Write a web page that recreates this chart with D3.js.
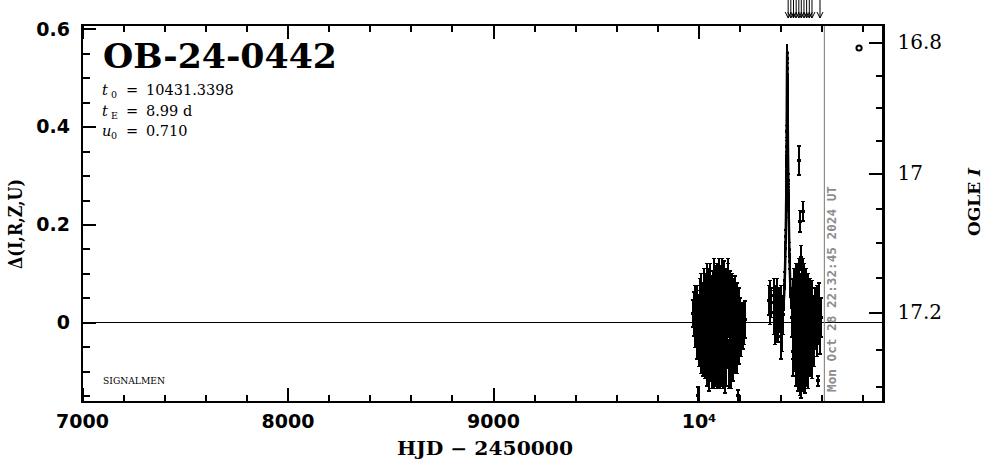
<!DOCTYPE html>
<html><head><meta charset="utf-8">
<script src="https://cdn.jsdelivr.net/npm/d3@7"></script>
<style>html,body{margin:0;padding:0;background:#fff;} svg{display:block;}</style>
</head><body>
<svg id="chart" width="986" height="459"></svg>
<script>
// ---------- data ----------
const xMajorTicks = [7000, 8000, 9000, 10000];
const xTickLabels = ["7000", "8000", "9000", "10⁴"];
const yMajorTicks = [0, 0.2, 0.4, 0.6];
const yTickLabels = ["0", "0.2", "0.4", "0.6"];
const magMajorTicks = [16.8, 17, 17.2];
const magTickLabels = ["16.8", "17", "17.2"];
const magMinorTicks = [16.85, 16.9, 16.95, 17.05, 17.1, 17.15, 17.25, 17.3];
const magKnots = [16.8, 17.0, 17.2, 17.3];
const magKnotDelta = [0.5726, 0.3047, 0.0204, -0.1317];

// [HJD-2450000, delta, error]
const season2023 = [
 [9973,0.018,0.028],[9976,0.030,0.032],[9979,0.002,0.030],[9982,0.040,0.035],[9985,-0.012,0.040],
 [9988,0.020,0.030],[9991,-0.030,0.045],[9994,0.045,0.030],[9997,-0.150,0.018],[9999,0.008,0.045],
 [10002,-0.040,0.050],[10005,0.055,0.035],[10008,0.015,0.050],[10011,-0.050,0.055],[10014,0.060,0.040],
 [10017,-0.015,0.060],[10020,0.030,0.050],[10023,-0.060,0.050],[10026,0.070,0.040],[10029,0.000,0.060],
 [10031,-0.070,0.045],[10034,0.045,0.055],[10037,-0.025,0.065],[10040,0.080,0.040],[10042,-0.080,0.050],
 [10045,0.020,0.060],[10048,-0.045,0.070],[10050,0.065,0.045],[10053,-0.095,0.045],[10055,0.010,0.065],
 [10058,0.085,0.035],[10060,-0.060,0.060],[10063,0.035,0.060],[10065,-0.090,0.045],[10068,0.050,0.055],
 [10070,-0.020,0.070],[10073,0.090,0.040],[10075,-0.085,0.050],[10078,0.000,0.075],[10080,0.060,0.055],
 [10083,-0.070,0.060],[10085,0.030,0.070],[10088,-0.095,0.040],[10090,0.075,0.045],[10093,-0.035,0.075],
 [10095,0.045,0.065],[10098,-0.080,0.055],[10100,0.085,0.045],[10103,-0.010,0.080],[10105,-0.100,0.035],
 [10108,0.055,0.060],[10110,-0.060,0.070],[10113,0.100,0.030],[10115,0.020,0.075],[10118,-0.090,0.045],
 [10120,0.065,0.050],[10123,-0.040,0.070],[10125,0.080,0.045],[10128,-0.100,0.045],[10130,0.010,0.070],
 [10133,0.070,0.040],[10135,-0.070,0.060],[10138,0.040,0.065],[10140,-0.020,0.075],[10143,0.095,0.035],
 [10145,0.070,0.050],[10148,-0.085,0.050],[10150,0.030,0.060],[10153,-0.050,0.065],[10155,0.060,0.045],
 [10158,-0.010,0.065],[10160,-0.095,0.040],[10163,0.050,0.050],[10165,-0.040,0.060],[10168,0.035,0.055],
 [10170,-0.070,0.050],[10173,0.015,0.060],[10175,0.055,0.040],[10178,-0.050,0.055],[10180,0.025,0.050],
 [10183,-0.025,0.055],[10185,0.040,0.040],[10188,-0.060,0.045],[10190,0.000,0.050],[10192,-0.150,0.012],
 [10195,-0.040,0.045],[10198,0.030,0.040],[10200,-0.015,0.045],[10203,0.015,0.035],[10206,-0.030,0.040],
 [10210,0.005,0.035],[10214,-0.020,0.035],[10218,0.010,0.030],[10221,-0.015,0.030],[10225,0.006,0.038]
];
const season2024Early = [
 [10343,0.045,0.030],[10346,0.030,0.035],[10350,0.060,0.025],[10353,0.040,0.030],[10365,0.020,0.045],
 [10368,0.055,0.035],[10372,-0.010,0.035],[10375,0.035,0.040],[10378,0.010,0.050],[10382,0.060,0.030],
 [10386,-0.005,0.035],[10390,0.040,0.030],[10396,0.020,0.040],[10400,-0.030,0.045],[10403,0.040,0.035],
 [10406,-0.010,0.050],[10409,0.015,0.040]
];
const season2024Peak = [
 [10412,0.030,0.020],[10415,0.045,0.020],[10417,0.060,0.018],[10419,0.085,0.018],[10420.5,0.100,0.015],
 [10422,0.130,0.015],[10423,0.150,0.015],[10424,0.175,0.014],[10425,0.200,0.014],[10425.5,0.215,0.013],
 [10426,0.235,0.013],[10426.5,0.250,0.013],[10427,0.270,0.013],[10427.5,0.300,0.012],[10428,0.330,0.012],
 [10428.4,0.360,0.012],[10428.8,0.390,0.012],[10429.2,0.415,0.012],[10429.5,0.440,0.012],[10429.9,0.470,0.011],
 [10430.3,0.500,0.011],[10430.7,0.525,0.011],[10431,0.545,0.011],[10431.4,0.552,0.012],[10431.7,0.555,0.012],
 [10432.1,0.540,0.011],[10432.5,0.520,0.011],[10432.9,0.495,0.011],[10433.3,0.470,0.012],[10433.6,0.445,0.012],
 [10434,0.420,0.012],[10434.5,0.392,0.012],[10435,0.365,0.012],[10435.5,0.342,0.012],[10436,0.320,0.013],
 [10436.5,0.305,0.013],[10437,0.290,0.013],[10437.5,0.270,0.013],[10438,0.250,0.014],[10438.7,0.228,0.014],
 [10439.5,0.205,0.014],[10440.2,0.188,0.015],[10441,0.170,0.015],[10442,0.148,0.015],[10443,0.125,0.016],
 [10444,0.110,0.017],[10445,0.095,0.018],[10447,0.070,0.018],[10450,0.050,0.020],[10453,0.030,0.022]
];
const season2024Late = [
 [10456,0.010,0.040],[10458,-0.030,0.045],[10460,0.050,0.040],[10462,-0.060,0.050],[10464,0.020,0.055],
 [10466,0.070,0.040],[10468,-0.040,0.060],[10470,0.000,0.065],[10472,0.075,0.045],[10474,-0.080,0.050],
 [10476,0.035,0.060],[10478,-0.020,0.070],[10480,0.080,0.040],[10482,-0.090,0.050],[10484,0.045,0.065],
 [10486,-0.050,0.070],[10488,0.010,0.075],[10491,0.085,0.045],[10493,-0.100,0.050],[10496,0.030,0.070],
 [10498,-0.065,0.070],[10500,-0.120,0.035],[10502,0.060,0.055],[10504,-0.030,0.075],[10506,0.090,0.040],
 [10508,-0.085,0.055],[10510,0.015,0.075],[10512,-0.045,0.065],[10514,0.070,0.050],[10516,-0.100,0.045],
 [10518,0.040,0.060],[10520,-0.015,0.070],[10523,-0.070,0.060],[10525,0.065,0.045],[10528,-0.035,0.060],
 [10530,0.025,0.060],[10533,-0.090,0.045],[10535,0.050,0.050],[10538,-0.010,0.060],[10540,-0.060,0.050],
 [10543,0.040,0.050],[10545,-0.030,0.055],[10548,0.020,0.050],[10550,-0.075,0.040],[10553,0.045,0.040],
 [10556,-0.020,0.050],[10559,0.010,0.045],[10562,-0.050,0.040],[10565,0.030,0.040],[10568,-0.010,0.045],
 [10571,0.015,0.040],[10574,-0.030,0.040],[10577,0.040,0.035],[10580,-0.120,0.010],[10583,0.000,0.045],
 [10587,0.030,0.050],[10591,-0.020,0.045],[10595,0.010,0.040]
];
const outliers = [
 [10490,0.331,0.030],[10509,0.227,0.020],[10494,0.207,0.022],[10497,0.132,0.025]
];
const arrowHjd = [10436,10449,10462,10475,10488,10500,10513,10526,10539,10552,10591];
const nowHjd = 10612.44;
const nowLabel = "Mon Oct 28 22:32:45 2024 UT";
const baselineMarker = [10781, 0.561];
const eventName = "OB-24-0442";
const paramNames = [["t","0"],["t","E"],["u","0"]];
const paramValues = ["10431.3398", "8.99  d", "0.710"];

// ---------- drawing ----------
const svg = d3.select("#chart");
const P = {left:82, right:883.5, top:25, bottom:402};
const x = d3.scaleLinear().domain([7000,10900]).range([P.left,P.right]);
const y = d3.scaleLinear().domain([-0.163,0.608]).range([P.bottom,P.top]);
const magY = d3.scaleLinear().domain(magKnots).range(magKnotDelta.map(d=>y(d)));

svg.append("defs").append("clipPath").attr("id","clip")
  .append("rect").attr("x",P.left).attr("y",P.top).attr("width",P.right-P.left).attr("height",P.bottom-P.top);

// zero line
svg.append("line").attr("x1",P.left).attr("x2",P.right).attr("y1",y(0)).attr("y2",y(0))
  .attr("stroke","#000").attr("stroke-width",1).attr("shape-rendering","crispEdges");

// now line
svg.append("line").attr("x1",x(nowHjd)).attr("x2",x(nowHjd)).attr("y1",P.top).attr("y2",P.bottom)
  .attr("stroke","#8c8c8c").attr("stroke-width",1.2);
svg.append("text").attr("transform",`translate(${x(nowHjd)+11.5},392) rotate(-90)`)
  .attr("font-family","DejaVu Sans Mono").attr("font-weight","bold").attr("font-size",12)
  .attr("fill","#8c8c8c").attr("textLength",206).attr("lengthAdjust","spacingAndGlyphs").text(nowLabel);

// data
const g = svg.append("g").attr("clip-path","url(#clip)");
function drawSet(data, cap){
  const s = g.append("g").attr("stroke","#000").attr("shape-rendering","crispEdges");
  const p = s.selectAll("g").data(data).join("g");
  p.append("line").attr("x1",d=>x(d[0])).attr("x2",d=>x(d[0]))
    .attr("y1",d=>y(d[1]+d[2])).attr("y2",d=>y(d[1]-d[2])).attr("stroke-width",2);
  p.append("line").attr("x1",d=>x(d[0])-cap).attr("x2",d=>x(d[0])+cap)
    .attr("y1",d=>y(d[1]+d[2])).attr("y2",d=>y(d[1]+d[2])).attr("stroke-width",1.5);
  p.append("line").attr("x1",d=>x(d[0])-cap).attr("x2",d=>x(d[0])+cap)
    .attr("y1",d=>y(d[1]-d[2])).attr("y2",d=>y(d[1]-d[2])).attr("stroke-width",1.5);
  p.append("rect").attr("x",d=>x(d[0])-cap).attr("y",d=>y(d[1])-1.5).attr("width",2*cap).attr("height",3)
    .attr("fill","#000").attr("stroke","none");
}
drawSet(season2023, 2);
drawSet(season2024Early, 2);
drawSet(season2024Late, 2);
drawSet(outliers, 2);
// peak points joined by a line so the spike reads as one stroke
g.append("path").datum(season2024Peak)
  .attr("d", d3.line().x(d=>x(d[0])).y(d=>y(d[1])))
  .attr("fill","none").attr("stroke","#000").attr("stroke-width",2.5);
drawSet(season2024Peak, 1.2);

// baseline marker circle
svg.append("circle").attr("cx",x(baselineMarker[0])).attr("cy",y(baselineMarker[1])).attr("r",2.6)
  .attr("fill","none").attr("stroke","#000").attr("stroke-width",2);

// arrows above
const ag = svg.append("g").attr("stroke","#000").attr("stroke-width",1).attr("fill","none");
arrowHjd.forEach(h=>{
  const ax = x(h);
  ag.append("line").attr("x1",ax).attr("x2",ax).attr("y1",0).attr("y2",18);
  ag.append("path").attr("d",`M${ax-3},12 L${ax},18 L${ax+3},12`);
});

// axes
function styleAxis(sel){
  sel.select(".domain").remove();
  sel.selectAll(".tick line").attr("stroke","#000").attr("stroke-width",2).attr("shape-rendering","crispEdges");
}
const xMinor = d3.range(7200,10900,200).filter(v=>v%1000!==0);
const yMinor = [-0.15,-0.1,-0.05,0.05,0.1,0.15,0.25,0.3,0.35,0.45,0.5,0.55];

// bottom
svg.append("g").attr("transform",`translate(0,${P.bottom})`)
  .call(d3.axisBottom(x).tickValues(xMinor).tickSize(-7).tickFormat("")).call(styleAxis);
svg.append("g").attr("transform",`translate(0,${P.bottom})`)
  .call(d3.axisBottom(x).tickValues(xMajorTicks).tickSize(-14).tickPadding(13)
    .tickFormat((d,i)=>xTickLabels[i])).call(styleAxis)
  .selectAll("text").attr("font-family","DejaVu Sans").attr("font-weight","bold").attr("font-size",19).attr("fill","#000");
// top
svg.append("g").attr("transform",`translate(0,${P.top})`)
  .call(d3.axisTop(x).tickValues(xMinor).tickSize(-7).tickFormat("")).call(styleAxis);
svg.append("g").attr("transform",`translate(0,${P.top})`)
  .call(d3.axisTop(x).tickValues(xMajorTicks).tickSize(-14).tickFormat("")).call(styleAxis);
// left
svg.append("g").attr("transform",`translate(${P.left},0)`)
  .call(d3.axisLeft(y).tickValues(yMinor).tickSize(-8).tickFormat("")).call(styleAxis);
svg.append("g").attr("transform",`translate(${P.left},0)`)
  .call(d3.axisLeft(y).tickValues(yMajorTicks).tickSize(-14).tickPadding(12)
    .tickFormat((d,i)=>yTickLabels[i])).call(styleAxis)
  .selectAll("text").attr("font-family","DejaVu Sans").attr("font-weight","bold").attr("font-size",19).attr("fill","#000");
// right
svg.append("g").attr("transform",`translate(${P.right},0)`)
  .call(d3.axisRight(magY).tickValues(magMinorTicks).tickSize(-8).tickFormat("")).call(styleAxis);
svg.append("g").attr("transform",`translate(${P.right},0)`)
  .call(d3.axisRight(magY).tickValues(magMajorTicks).tickSize(-15).tickPadding(14)
    .tickFormat((d,i)=>magTickLabels[i])).call(styleAxis)
  .selectAll("text").attr("font-family","DejaVu Serif").attr("font-size",20).attr("fill","#000");

// frame
svg.append("rect").attr("x",P.left).attr("y",P.top).attr("width",P.right-P.left).attr("height",P.bottom-P.top)
  .attr("fill","none").attr("stroke","#000").attr("stroke-width",2.2).attr("shape-rendering","crispEdges");

// title and params
svg.append("text").attr("x",103).attr("y",68).attr("font-family","DejaVu Serif").attr("font-weight","bold")
  .attr("font-size",34).attr("textLength",234).attr("lengthAdjust","spacingAndGlyphs").text(eventName);
const pBase = [95, 116, 136];
paramNames.forEach((n,i)=>{
  const t = svg.append("text").attr("font-family","DejaVu Serif").attr("font-size",14.5).attr("fill","#000");
  t.append("tspan").attr("x",102).attr("y",pBase[i]).attr("font-style","italic").text(n[0]);
  t.append("tspan").attr("x",111).attr("y",pBase[i]+3).attr("font-size",9.5).text(n[1]);
  t.append("tspan").attr("x",126).attr("y",pBase[i]).text("=");
  t.append("tspan").attr("x",146).attr("y",pBase[i]).text(paramValues[i]);
});
svg.append("text").attr("x",103).attr("y",384).attr("font-family","DejaVu Serif").attr("font-size",9.5)
  .attr("textLength",62).attr("lengthAdjust","spacingAndGlyphs").text("SIGNALMEN");

// axis titles
svg.append("text").attr("x",485).attr("y",455).attr("text-anchor","middle")
  .attr("font-family","DejaVu Serif").attr("font-weight","bold").attr("font-size",18)
  .attr("textLength",176).attr("lengthAdjust","spacingAndGlyphs").text("HJD − 2450000");
svg.append("text").attr("transform","translate(22,224) rotate(-90)").attr("text-anchor","middle")
  .attr("font-family","DejaVu Serif").attr("font-weight","bold").attr("font-size",18)
  .attr("textLength",90).attr("lengthAdjust","spacingAndGlyphs").text("Δ(I,R,Z,U)");
const ol = svg.append("text").attr("transform","translate(980,202) rotate(-90)").attr("text-anchor","middle")
  .attr("font-family","DejaVu Serif").attr("font-weight","bold").attr("font-size",17);
ol.append("tspan").text("OGLE ");
ol.append("tspan").attr("font-style","italic").text("I");
</script>
</body></html>
